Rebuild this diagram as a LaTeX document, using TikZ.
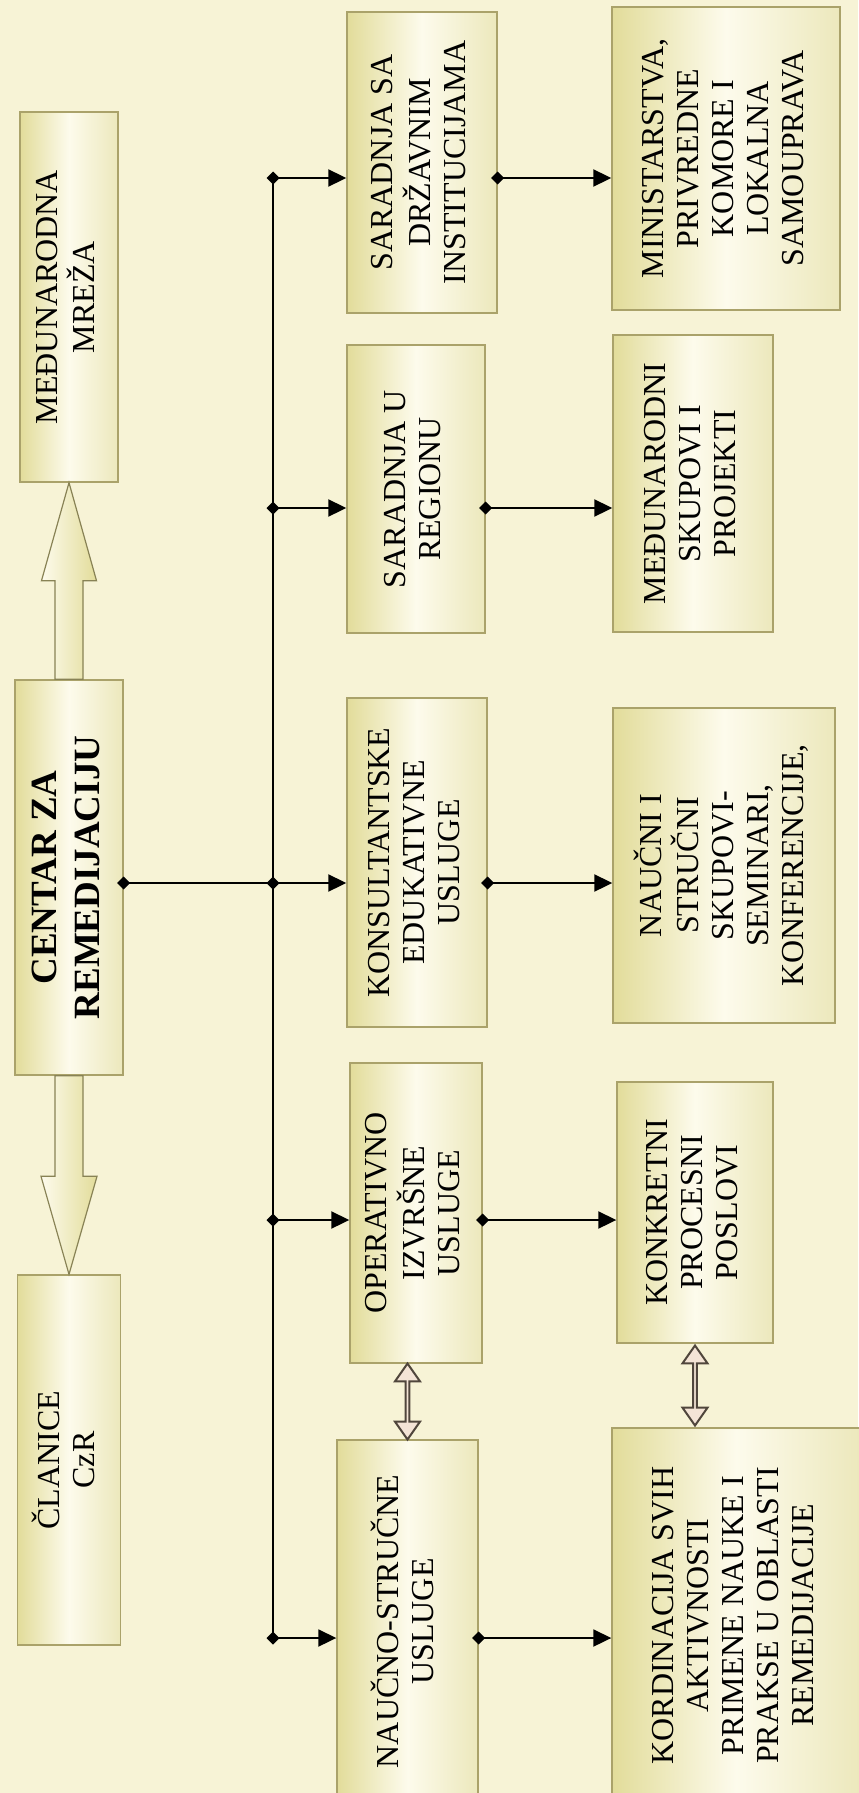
\documentclass[tikz,border=0pt]{standalone}
\usepackage{fontspec}
\setmainfont{Liberation Serif}
\usepackage{graphicx}
\usetikzlibrary{calc}
\usetikzlibrary{arrows.meta}
\usetikzlibrary{shapes.arrows}

\definecolor{paper}{RGB}{247,243,214}
\definecolor{boxedge}{RGB}{226,220,154}
\definecolor{boxlight}{RGB}{253,251,236}
\definecolor{boxshade}{RGB}{236,232,188}
\definecolor{boxline}{RGB}{170,162,106}
\definecolor{peach}{RGB}{244,228,214}
\definecolor{arrowline}{RGB}{80,70,60}

\newcommand{\boxtext}[1]{\rotatebox{90}{\begin{tabular}{@{}c@{}}#1\end{tabular}}}

\tikzset{
  box/.style={draw=boxline,line width=0.7pt,left color=boxedge,right color=boxshade,middle color=boxlight,inner sep=0pt,font=\fontsize{16pt}{17.5pt}\selectfont},
  trunk/.style={line width=1pt},
  conn/.style={line width=1pt,{Diamond[length=6.5pt,width=6.5pt]}-{Triangle[length=9pt,width=8.5pt]},shorten <=-3.25pt},
  stub/.style={line width=1pt,{Diamond[length=6.5pt,width=6.5pt]}-,shorten <=-3.25pt},
  bigarrow/.style={draw=boxline!80!black,line width=0.6pt,left color=boxlight,right color=boxedge},
  dblarrow/.style={double arrow,draw=arrowline,fill=peach,line width=1pt,inner sep=0pt,minimum width=12.5pt,double arrow head extend=3pt,double arrow tip angle=70,rotate=90}
}

\begin{document}
\begin{tikzpicture}[x=0.5pt,y=-0.5pt]

\useasboundingbox (0,0) rectangle (858,1793);
\fill[paper] (0,0) rectangle (858,1793);

% left column
\node[box,minimum width=49pt,minimum height=185pt] (mreza) at (69,297) {\boxtext{MEĐUNARODNA\\MREŽA}};
\node[box,minimum width=54pt,minimum height=197.5pt,font=\fontsize{18.5pt}{21.5pt}\selectfont\bfseries] (centar) at (69,877.5) {\boxtext{CENTAR ZA\\REMEDIJACIJU}};
\node[box,minimum width=51.5pt,minimum height=185pt] (clanice) at (69,1460) {\boxtext{ČLANICE\\CzR}};

% middle column
\node[box,minimum width=75pt,minimum height=150.5pt] (drzavnim) at (422,162.5) {\boxtext{SARADNJA SA\\DRŽAVNIM\\INSTITUCIJAMA}};
\node[box,minimum width=69pt,minimum height=144pt] (regionu) at (416,489) {\boxtext{SARADNJA U\\REGIONU}};
\node[box,minimum width=70pt,minimum height=164.5pt] (konsult) at (417,862.5) {\boxtext{KONSULTANTSKE\\EDUKATIVNE\\USLUGE}};
\node[box,minimum width=66pt,minimum height=150pt] (operativno) at (416,1213) {\boxtext{OPERATIVNO\\IZVRŠNE\\USLUGE}};
\node[box,minimum width=70.5pt,minimum height=181.5pt] (naucno) at (407.5,1621.5) {\boxtext{NAUČNO-STRUČNE\\USLUGE}};

% right column
\node[box,minimum width=114pt,minimum height=151.5pt] (ministarstva) at (726,158.5) {\boxtext{MINISTARSTVA,\\PRIVREDNE\\KOMORE I\\LOKALNA\\SAMOUPRAVA}};
\node[box,minimum width=80pt,minimum height=148.5pt] (medjunarodni) at (693,483.5) {\boxtext{MEĐUNARODNI\\SKUPOVI I\\PROJEKTI}};
\node[box,minimum width=111pt,minimum height=157.5pt] (naucni) at (724,865.5) {\boxtext{NAUČNI I\\STRUČNI\\SKUPOVI-\\SEMINARI,\\KONFERENCIJE,}};
\node[box,minimum width=78pt,minimum height=130.5pt] (konkretni) at (695,1212.5) {\boxtext{KONKRETNI\\PROCESNI\\POSLOVI}};
\node[box,minimum width=124pt,minimum height=187.5pt] (kordinacija) at (736,1615.5) {\boxtext{KORDINACIJA SVIH\\AKTIVNOSTI\\PRIMENE NAUKE I\\PRAKSE U OBLASTI\\REMEDIJACIJE}};

% hollow arrows from the centre
\draw[bigarrow] ($(centar.north)+(-14,0)$) -- ($(mreza.south)+(-14,98)$) -- ($(mreza.south)+(-27.5,98)$) -- (mreza.south) -- ($(mreza.south)+(27.5,98)$) -- ($(mreza.south)+(14,98)$) -- ($(centar.north)+(14,0)$) -- cycle;
\draw[bigarrow] ($(centar.south)+(-14,0)$) -- ($(clanice.north)+(-14,-98)$) -- ($(clanice.north)+(-28,-98)$) -- (clanice.north) -- ($(clanice.north)+(28,-98)$) -- ($(clanice.north)+(14,-98)$) -- ($(centar.south)+(14,0)$) -- cycle;

\coordinate (j1) at (273,178);
\coordinate (j2) at (273,508);
\coordinate (j3) at (273,883);
\coordinate (j4) at (273,1220);
\coordinate (j5) at (273,1638);

\draw[trunk] (j1) -- (j5);
\draw[stub] (j3 -| centar.east) -- (j3);

\draw[conn] (j1) -- (j1 -| drzavnim.west);
\draw[conn] (j2) -- (j2 -| regionu.west);
\draw[conn] (j3) -- (j3 -| konsult.west);
\draw[conn] (j4) -- (j4 -| operativno.west);
\draw[conn] (j5) -- (j5 -| naucno.west);

\draw[conn] (j1 -| drzavnim.east) -- (j1 -| ministarstva.west);
\draw[conn] (j2 -| regionu.east) -- (j2 -| medjunarodni.west);
\draw[conn] (j3 -| konsult.east) -- (j3 -| naucni.west);
\draw[conn] (j4 -| operativno.east) -- (j4 -| konkretni.west);
\draw[conn] (j5 -| naucno.east) -- (j5 -| kordinacija.west);

% two-way links
\node[dblarrow,minimum height=38pt] (d1) at ($(naucno.north)!0.5!(naucno.north |- operativno.south)$) {};
\node[dblarrow,minimum height=40pt] (d2) at ($(konkretni.south)!0.5!(konkretni.south |- kordinacija.north)$) {};

\end{tikzpicture}
\end{document}
